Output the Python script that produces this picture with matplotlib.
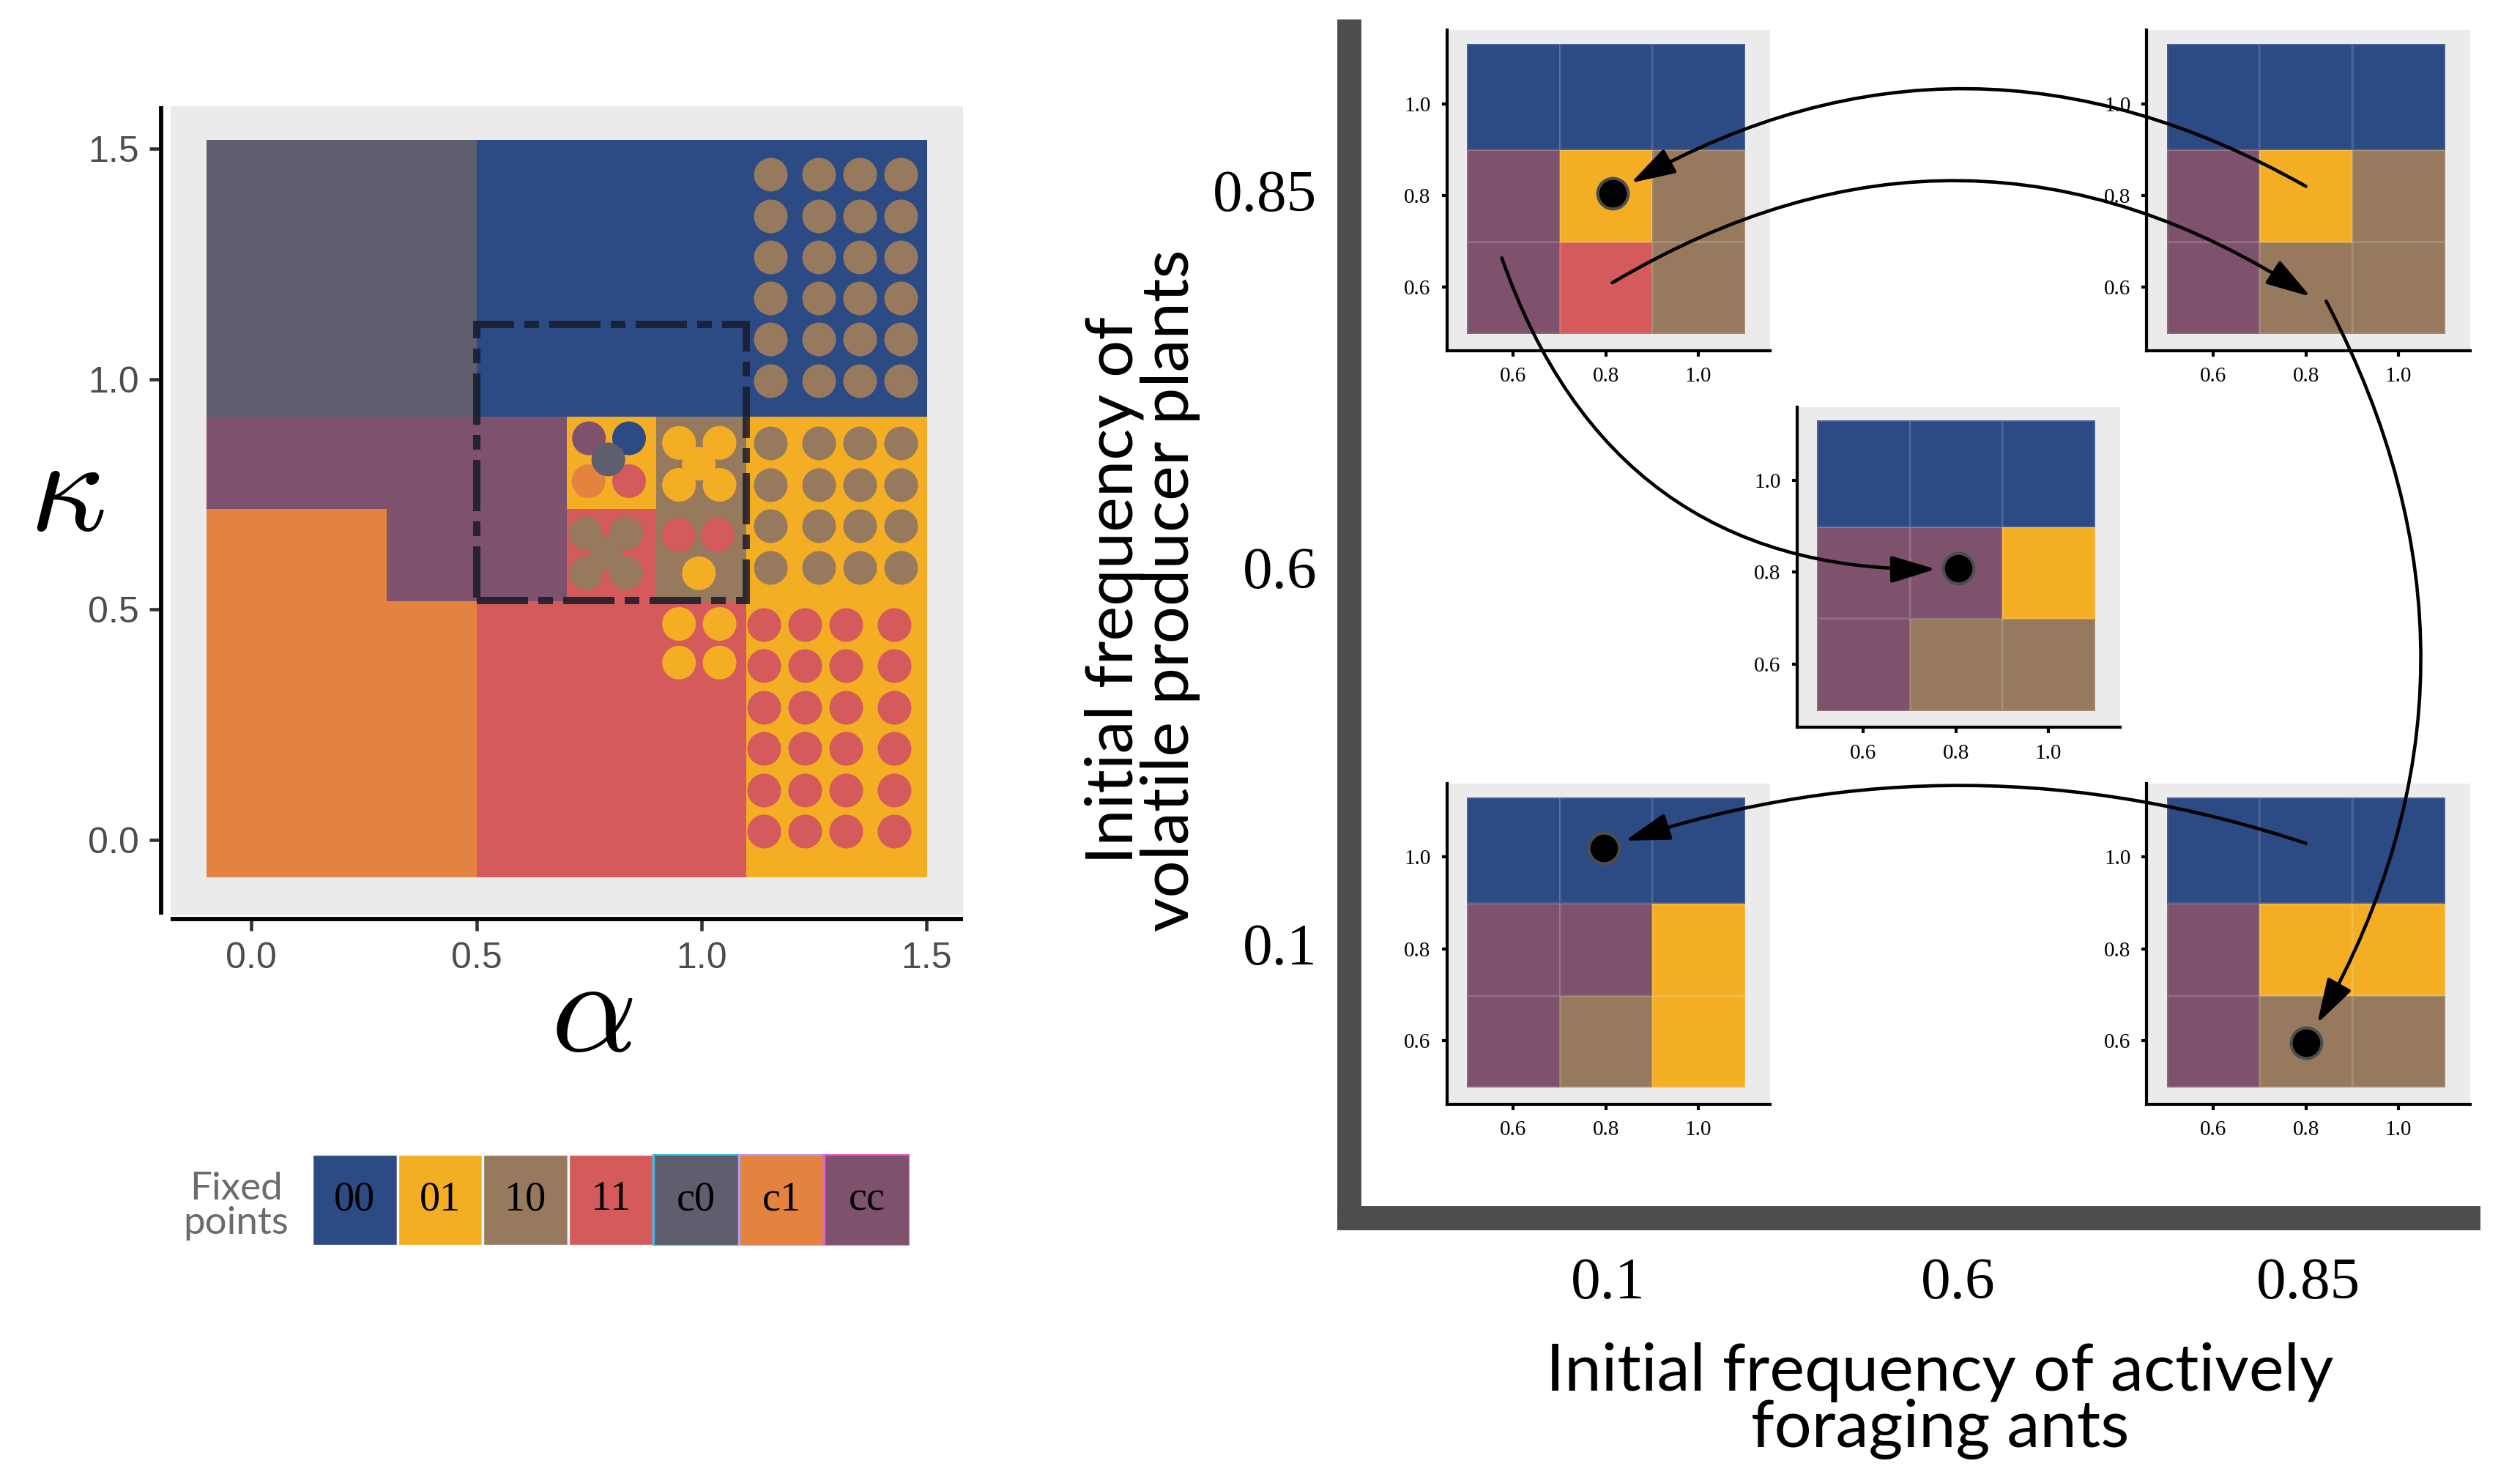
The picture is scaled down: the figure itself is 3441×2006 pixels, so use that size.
import numpy as np
import matplotlib
matplotlib.use("Agg")
import matplotlib.pyplot as plt
from matplotlib.colors import ListedColormap
from matplotlib.patches import Rectangle, ConnectionPatch

plt.rcParams["mathtext.fontset"] = "cm"

# --- fixed point categories ---
FP_LABELS = ["00", "01", "10", "11", "c0", "c1", "cc"]
FP_COLORS = ["#2C4A84", "#F3AE24", "#97795D", "#D55A5B", "#5F5E6E", "#E3833F", "#7E516C"]
FP_EDGES = ["#FFFFFF", "#FFFFFF", "#FFFFFF", "#FFFFFF", "#3FB8E6", "#B79CF2", "#E65FCF"]

# --- main phase diagram (alpha on x, kappa on y), rows bottom -> top ---
ALPHA_EDGES = [-0.1, 0.1, 0.3, 0.5, 0.7, 0.9, 1.1, 1.3, 1.5]
KAPPA_EDGES = [-0.08, 0.12, 0.32, 0.52, 0.72, 0.92, 1.12, 1.32, 1.52]
MAIN_GRID = [
    ["c1", "c1", "c1", "11", "11", "11", "01", "01"],
    ["c1", "c1", "c1", "11", "11", "11", "01", "01"],
    ["c1", "c1", "c1", "11", "11", "11", "01", "01"],
    ["c1", "c1", "cc", "cc", "11", "10", "01", "01"],
    ["cc", "cc", "cc", "cc", "01", "10", "01", "01"],
    ["c0", "c0", "c0", "00", "00", "00", "00", "00"],
    ["c0", "c0", "c0", "00", "00", "00", "00", "00"],
    ["c0", "c0", "c0", "00", "00", "00", "00", "00"],
]

# additional stable fixed points, drawn as dots
BROWN_COLS = [1.153, 1.26, 1.351, 1.442]
BROWN_ROWS_HIGH = [1.445, 1.355, 1.266, 1.176, 1.087, 0.997]
BROWN_ROWS_MID = [0.862, 0.771, 0.682, 0.592]
RED_COLS = [1.139, 1.229, 1.321, 1.428]
RED_ROWS = [0.468, 0.378, 0.287, 0.198, 0.108, 0.019]
DOT_ALPHA = [0.95, 1.04, 0.95, 1.04,
             0.95, 1.04, 0.95, 1.04, 0.994,
             0.743, 0.832, 0.743, 0.832, 0.7875,
             0.949, 1.036, 0.994,
             0.75, 0.839, 0.749, 0.839, 0.793]
DOT_KAPPA = [0.469, 0.469, 0.385, 0.385,
             0.862, 0.862, 0.771, 0.771, 0.817,
             0.666, 0.666, 0.579, 0.579, 0.623,
             0.662, 0.662, 0.579,
             0.872, 0.872, 0.779, 0.779, 0.826]
DOT_FP = ["01", "01", "01", "01",
          "01", "01", "01", "01", "01",
          "10", "10", "10", "10", "10",
          "11", "11", "01",
          "cc", "00", "c1", "11", "c0"]

# zoomed region shown in the insets
ZOOM_ALPHA = (0.5, 1.1)
ZOOM_KAPPA = (0.52, 1.12)

# --- insets: outcome by initial frequencies ---
ANT_LEVELS = ["0.1", "0.6", "0.85"]
PLANT_LEVELS = ["0.1", "0.6", "0.85"]
INSET_X_EDGES = [0.5, 0.7, 0.9, 1.1]
INSET_Y_EDGES = [0.5, 0.7, 0.9, 1.13]
INSET_ANTS = ["0.1", "0.85", "0.6", "0.1", "0.85"]
INSET_PLANTS = ["0.85", "0.85", "0.6", "0.1", "0.1"]
INSET_GRIDS = [
    [["cc", "11", "10"], ["cc", "01", "10"], ["00", "00", "00"]],
    [["cc", "10", "10"], ["cc", "01", "10"], ["00", "00", "00"]],
    [["cc", "10", "10"], ["cc", "cc", "01"], ["00", "00", "00"]],
    [["cc", "10", "01"], ["cc", "cc", "01"], ["00", "00", "00"]],
    [["cc", "10", "10"], ["cc", "01", "01"], ["00", "00", "00"]],
]
INSET_DOT_X = [0.814, None, 0.806, 0.795, 0.80]
INSET_DOT_Y = [0.804, None, 0.808, 1.02, 0.595]

# arrows between insets (inset index, point in inset coords)
ARROW_FROM = [1, 0, 0, 1, 4]
ARROW_START = [(0.80, 0.82), (0.814, 0.61), (0.575, 0.664), (0.844, 0.57), (0.80, 1.03)]
ARROW_TO = [0, 1, 2, 4, 3]
ARROW_END = [(0.814, 0.804), (0.81, 0.58), (0.806, 0.808), (0.80, 0.595), (0.795, 1.02)]
ARROW_RAD = [0.29, -0.31, 0.37, -0.28, 0.17]
ARROW_SHRINK = [7.0, 0.0, 7.5, 7.5, 7.5]

PANEL_BG = "#EBEBEB"
fp_index = {k: i for i, k in enumerate(FP_LABELS)}
fp_cmap = ListedColormap(FP_COLORS)


def codes(grid):
    return np.array([[fp_index[c] for c in row] for row in grid])


W, H = 3441, 2006
fig = plt.figure(figsize=(W / 300, H / 300), dpi=300)

# ---------------- left: phase diagram ----------------
ax = fig.add_axes([232.5 / W, 1 - 1249.5 / H, 1082 / W, 1104.5 / H])
ax.set_facecolor(PANEL_BG)
ax.pcolormesh(ALPHA_EDGES, KAPPA_EDGES, codes(MAIN_GRID), cmap=fp_cmap,
              vmin=-0.5, vmax=6.5, edgecolors="face", linewidth=0.2)

dot_s = 122
gx, gy = np.meshgrid(BROWN_COLS, BROWN_ROWS_HIGH)
ax.scatter(gx.ravel(), gy.ravel(), s=dot_s, color=FP_COLORS[fp_index["10"]], lw=0, zorder=3)
gx, gy = np.meshgrid(BROWN_COLS, BROWN_ROWS_MID)
ax.scatter(gx.ravel(), gy.ravel(), s=dot_s, color=FP_COLORS[fp_index["10"]], lw=0, zorder=3)
gx, gy = np.meshgrid(RED_COLS, RED_ROWS)
ax.scatter(gx.ravel(), gy.ravel(), s=dot_s, color=FP_COLORS[fp_index["11"]], lw=0, zorder=3)
ax.scatter(DOT_ALPHA, DOT_KAPPA, s=dot_s, lw=0, zorder=3,
           color=[FP_COLORS[fp_index[f]] for f in DOT_FP])

ax.add_patch(Rectangle((ZOOM_ALPHA[0], ZOOM_KAPPA[0]),
                       ZOOM_ALPHA[1] - ZOOM_ALPHA[0], ZOOM_KAPPA[1] - ZOOM_KAPPA[0],
                       fill=False, ec="#161b2b", alpha=0.85, lw=2.4,
                       ls=(0, (7, 1.4, 2, 1.4)), zorder=5))

ax.set_xlim(-0.18, 1.58)
ax.set_ylim(-0.163, 1.593)
ax.set_xticks([0, 0.5, 1.0, 1.5], ["0.0", "0.5", "1.0", "1.5"])
ax.set_yticks([0, 0.5, 1.0, 1.5], ["0.0", "0.5", "1.0", "1.5"])
for s in ["top", "right"]:
    ax.spines[s].set_visible(False)
ax.spines["left"].set_position(("outward", 3))
ax.spines["bottom"].set_position(("outward", 1.4))
for s in ["left", "bottom"]:
    ax.spines[s].set_linewidth(1.4)
    ax.spines[s].set_color("black")
    ax.spines[s].set_capstyle("butt")
ax.tick_params(length=3.8, width=1.1, color="#333333", labelcolor="#4D4D4D",
               labelsize=12, pad=3.5)
for lab in ax.get_xticklabels() + ax.get_yticklabels():
    lab.set_fontfamily("Liberation Sans")
ax.set_xlabel(r"$\alpha$", fontsize=44)
ax.xaxis.set_label_coords((808 - 232.5) / 1082, -(1384 - 1249.5) / 1104.5)
ax.xaxis.label.set_va("center")
ax.set_ylabel(r"$\kappa$", fontsize=44, rotation=0)
ax.yaxis.set_label_coords((91.5 - 232.5) / 1082, (1249.5 - 673) / 1104.5)
ax.yaxis.label.set_va("center")
ax.yaxis.label.set_ha("center")

# ---------------- legend ----------------
lax = fig.add_axes([426 / W, 1 - 1701 / H, 816 / W, 125 / H])
lax.bar(range(len(FP_LABELS)), [1] * len(FP_LABELS), width=1, color=FP_COLORS,
        edgecolor=FP_EDGES, linewidth=0.8)
for i, lab in enumerate(FP_LABELS):
    lax.text(i, 0.5, lab, ha="center", va="center", fontsize=13.5,
             fontfamily="Liberation Serif", color="black")
lax.text(-1.39, 0.43, "Fixed\npoints", ha="center", va="center", fontsize=12.7,
         fontfamily="Lato", color="#6B6B6B", linespacing=1.0)
lax.set_xlim(-0.5, len(FP_LABELS) - 0.5)
lax.set_ylim(0, 1)
lax.axis("off")

# ---------------- right: initial frequencies ----------------
rax = fig.add_axes([1842 / W, 1 - 1663 / H, (3370 - 1842) / W, (1663 - 26) / H])
rax.set_xlim(-0.741, 2.456)
rax.set_ylim(-0.727, 2.455)
rax.set_xticks(range(len(ANT_LEVELS)), ANT_LEVELS)
rax.set_yticks(range(len(PLANT_LEVELS)), PLANT_LEVELS)
for s in ["top", "right"]:
    rax.spines[s].set_visible(False)
for s in ["left", "bottom"]:
    rax.spines[s].set_linewidth(7.9)
    rax.spines[s].set_color("#4D4D4D")
rax.spines["left"].set_capstyle("butt")
rax.spines["bottom"].set_capstyle("projecting")
rax.tick_params(axis="x", length=0, pad=13, labelsize=19.5)
rax.tick_params(axis="y", length=0, pad=10.5, labelsize=19.5)
for lab in rax.get_xticklabels() + rax.get_yticklabels():
    lab.set_fontfamily("Liberation Serif")
rax.set_xlabel("Initial frequency of actively\nforaging ants", fontsize=21.7,
               fontfamily="Lato", linespacing=0.92)
rax.xaxis.set_label_coords(0.528, -0.1527)
rax.xaxis.label.set_va("center")
rax.set_ylabel("Initial frequency of\nvolatile producer plants", fontsize=21.7,
               fontfamily="Lato", linespacing=0.92)
rax.yaxis.set_label_coords(-0.1846, 0.5235)
rax.yaxis.label.set_va("center")

INSET_W, INSET_H = 0.923, 0.851
insets = []
for k in range(len(INSET_GRIDS)):
    cx = ANT_LEVELS.index(INSET_ANTS[k])
    cy = PLANT_LEVELS.index(INSET_PLANTS[k])
    iax = rax.inset_axes([cx - INSET_W / 2, cy - INSET_H / 2, INSET_W, INSET_H],
                         transform=rax.transData)
    iax.set_facecolor(PANEL_BG)
    iax.pcolormesh(INSET_X_EDGES, INSET_Y_EDGES, codes(INSET_GRIDS[k]), cmap=fp_cmap,
                   vmin=-0.5, vmax=6.5, edgecolors=(1, 1, 1, 0.12), linewidth=0.3)
    if INSET_DOT_X[k] is not None:
        iax.scatter([INSET_DOT_X[k]], [INSET_DOT_Y[k]], s=100, color="black",
                    edgecolor="#4D4D4D", linewidth=1.0, zorder=3)
    iax.set_xlim(0.456, 1.155)
    iax.set_ylim(0.462, 1.16)
    iax.set_xticks([0.6, 0.8, 1.0], ["0.6", "0.8", "1.0"])
    iax.set_yticks([0.6, 0.8, 1.0], ["0.6", "0.8", "1.0"])
    for s in ["top", "right"]:
        iax.spines[s].set_visible(False)
    for s in ["left", "bottom"]:
        iax.spines[s].set_linewidth(1.0)
        iax.spines[s].set_color("black")
    iax.tick_params(length=1.8, width=1.0, labelsize=7, pad=3.5)
    for lab in iax.get_xticklabels() + iax.get_yticklabels():
        lab.set_fontfamily("Liberation Serif")
    insets.append(iax)

for a, b, p0, p1, r, sh in zip(ARROW_FROM, ARROW_TO, ARROW_START, ARROW_END,
                               ARROW_RAD, ARROW_SHRINK):
    con = ConnectionPatch(xyA=p0, coordsA=insets[a].transData,
                          xyB=p1, coordsB=insets[b].transData,
                          arrowstyle="-|>,head_length=1.25,head_width=0.38",
                          mutation_scale=10, connectionstyle=f"arc3,rad={r}",
                          lw=1.1, color="black", shrinkA=0, shrinkB=sh, zorder=10)
    fig.add_artist(con)

fig.savefig("out.png", dpi=300)
